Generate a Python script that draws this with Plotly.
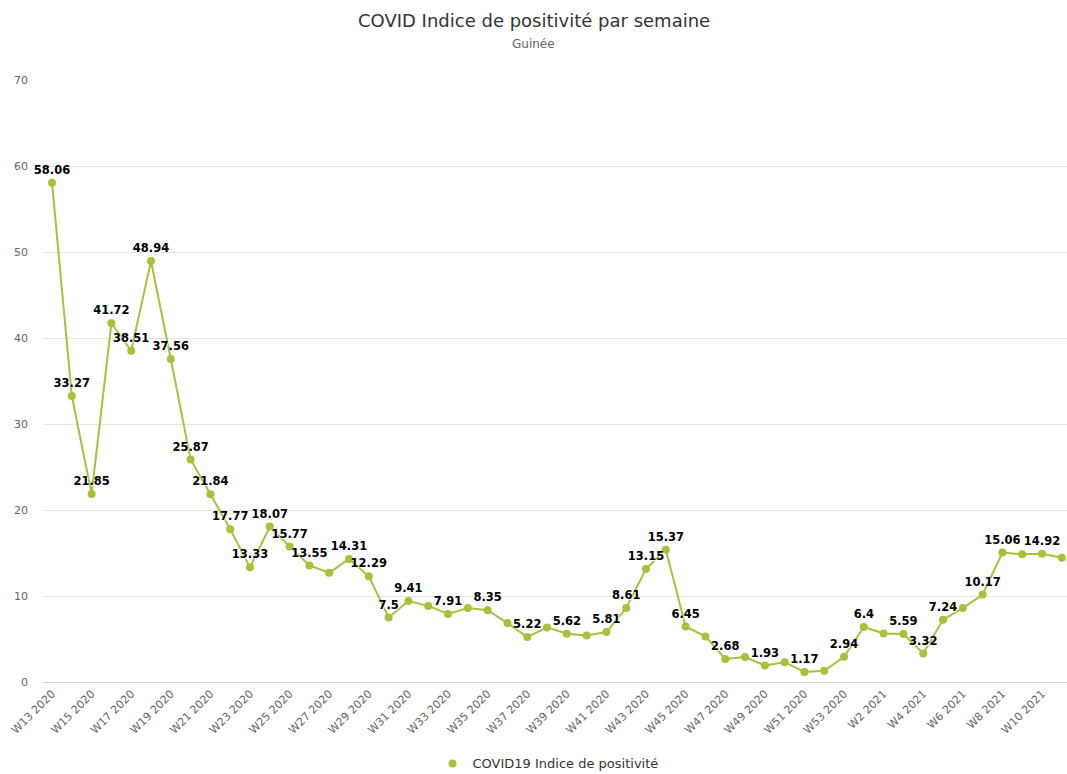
import plotly.graph_objects as go

weeks = (
    [f"W{w} 2020" for w in range(13, 54)]
    + [f"W{w} 2021" for w in range(1, 12)]
)
positivity = [
    58.06, 33.27, 21.85, 41.72, 38.51, 48.94, 37.56, 25.87, 21.84, 17.77,
    13.33, 18.07, 15.77, 13.55, 12.7, 14.31, 12.29, 7.5, 9.41, 8.85,
    7.91, 8.6, 8.35, 6.85, 5.22, 6.35, 5.62, 5.4, 5.81, 8.61,
    13.15, 15.37, 6.45, 5.3, 2.68, 2.9, 1.93, 2.3, 1.17, 1.3,
    2.94, 6.4, 5.65, 5.59, 3.32, 7.24, 8.6, 10.17, 15.06, 14.85,
    14.92, 14.45,
]
# weeks whose value label is hidden in the original (overlap avoidance)
unlabeled_weeks = [
    "W27 2020", "W32 2020", "W34 2020", "W36 2020", "W38 2020", "W40 2020",
    "W46 2020", "W48 2020", "W50 2020", "W52 2020", "W2 2021", "W6 2021",
    "W9 2021", "W11 2021",
]
tick_weeks = weeks[::2]

series_name = "COVID19 Indice de positivité"
title_text = "COVID Indice de positivité par semaine"
subtitle_text = "Guinée"

color = "#a6c23a"
font = "DejaVu Sans"

labels = ["" if w in unlabeled_weeks else f"{v:g}" for w, v in zip(weeks, positivity)]

fig = go.Figure()
fig.add_trace(go.Scatter(
    x=weeks, y=positivity, mode="lines+markers+text",
    text=labels, textposition="top center",
    textfont=dict(family=font, size=11.5, color="#000000", weight="bold",
                  shadow="1px 1px 1px #ffffff"),
    line=dict(color=color, width=2),
    marker=dict(color=color, size=8),
    showlegend=False, cliponaxis=False,
))
fig.add_trace(go.Scatter(
    x=[None], y=[None], mode="markers", name=series_name,
    marker=dict(color=color, size=8),
))

L, T = 43, 80
B = 682.5
plot_h = B - T

fig.update_layout(
    width=1067, height=774,
    margin=dict(l=L, r=0, t=T, b=774 - B, autoexpand=False),
    paper_bgcolor="white", plot_bgcolor="white",
    font=dict(family=font, color="#666666", size=11),
    xaxis=dict(
        type="category", range=[-0.455, 51.26],
        tickmode="array", tickvals=tick_weeks, ticktext=tick_weeks,
        tickangle=-45, tickfont=dict(size=11, color="#666666"),
        showgrid=False, showline=True, linecolor="#ccd6eb", linewidth=1,
        ticks="", fixedrange=True, automargin=False,
    ),
    yaxis=dict(
        range=[0, 70], tickvals=[0, 10, 20, 30, 40, 50, 60, 70],
        gridcolor="#e6e6e6", gridwidth=1, zeroline=False,
        tickfont=dict(size=11, color="#666666"),
        ticklabelstandoff=14, showline=False, automargin=False,
    ),
    legend=dict(
        orientation="h", x=(548 - L) / 1024, xanchor="center",
        y=-(764 - B) / plot_h, yanchor="middle",
        font=dict(size=13, color="#333333", family=font),
        itemwidth=30,
    ),
    annotations=[
        dict(text=title_text, xref="paper", yref="paper",
             x=(533.5 - L) / 1024, y=1 + (T - 20) / plot_h,
             xanchor="center", yanchor="middle", showarrow=False,
             font=dict(size=18, color="#333333", family=font)),
        dict(text=subtitle_text, xref="paper", yref="paper",
             x=(533.5 - L) / 1024, y=1 + (T - 44) / plot_h,
             xanchor="center", yanchor="middle", showarrow=False,
             font=dict(size=12, color="#666666", family=font)),
    ],
)

fig.write_html(
    "out.html",
    config={"displayModeBar": False},
    post_script="document.body.style.margin='0';document.body.style.overflow='hidden';",
)
